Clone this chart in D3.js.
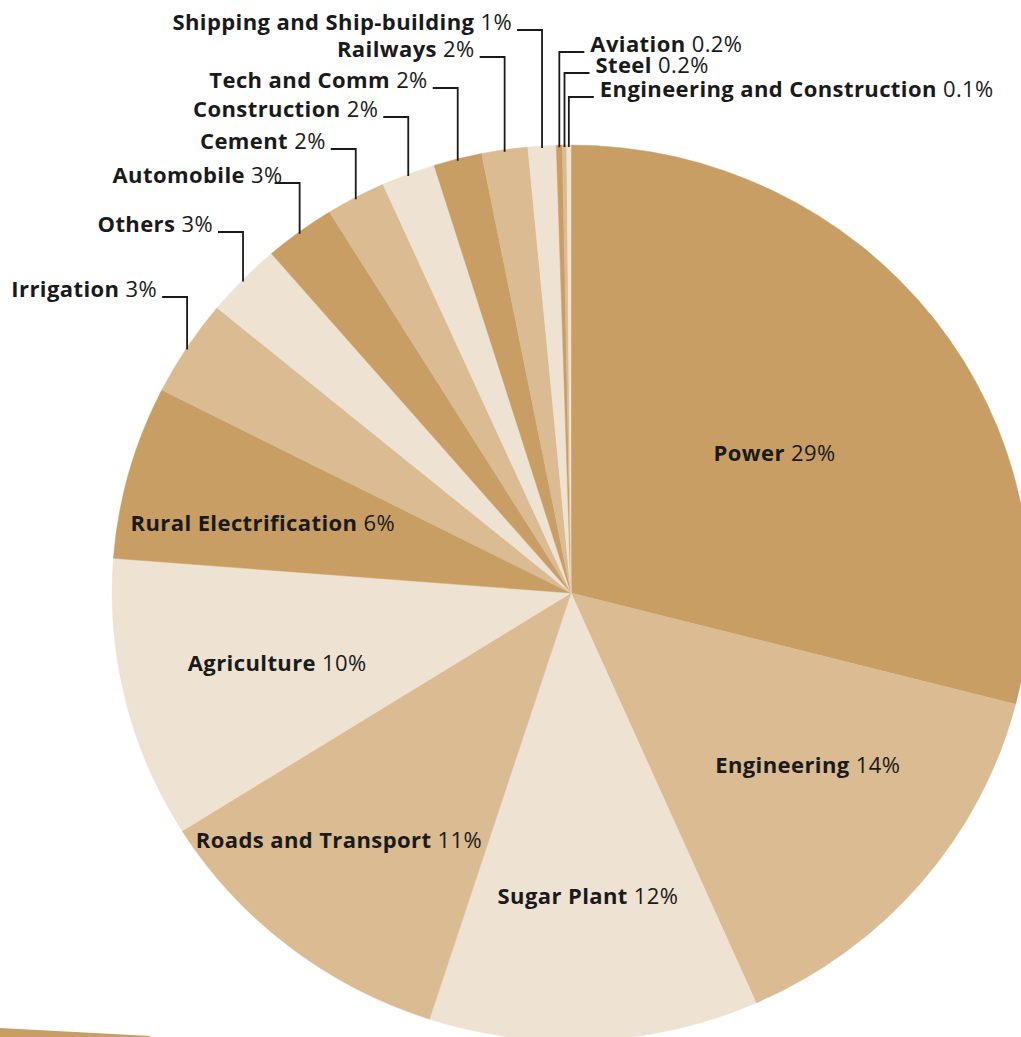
<!DOCTYPE html>
<html>
<head>
<meta charset="utf-8">
<script src="https://cdn.jsdelivr.net/npm/d3@7"></script>
<style>
    body { margin: 0; background: #fff; }
    svg { display: block; }
    .lbl { font-family: "Open Sans", "Noto Sans", sans-serif; font-size: 22px; fill: #1a1a1a; letter-spacing: 0.4px; }
    .lbl .name { font-weight: 700; }
    .callout { fill: none; stroke: #1a1a1a; stroke-width: 1.8; }
</style>
</head>
<body>
<div class="panel"></div>
<script>

// Data ////////////////////////////////////

const categories = [
    "Power", "Engineering", "Sugar Plant", "Roads and Transport", "Agriculture",
    "Rural Electrification", "Irrigation", "Others", "Automobile", "Cement",
    "Construction", "Tech and Comm", "Railways", "Shipping and Ship-building",
    "Aviation", "Steel", "Engineering and Construction"
];

// printed percentages
const labelPct = [29, 14, 12, 11, 10, 6, 3, 3, 3, 2, 2, 2, 2, 1, 0.2, 0.2, 0.1];

const shares = [29.0, 14.4, 11.6, 11.1, 10.15, 6.25, 3.5, 2.7, 2.5, 2.1, 1.9, 1.7, 1.62, 0.99, 0.21, 0.15, 0.15];

// Style / layout ///////////////////////////

const dark = "#c89e64", mid = "#dbbb92", light = "#eee2d2";
const sliceColors = [dark, mid, light, mid, light, dark, mid, light, dark, mid, light, dark, mid, light, dark, mid, light];

const width = 1021, height = 1037;
const cx = 571, cy = 593, rx = 459, ry = 448;

// inner labels: [angle in degrees clockwise from top, distance from centre]
const innerPos = {
    "Power": [55.5, 247],
    "Engineering": [126.1, 293],
    "Sugar Plant": [176.8, 304],
    "Roads and Transport": [223.2, 339],
    "Agriculture": [256.6, 302],
    "Rural Electrification": [282.8, 316]
};

// outer labels: y of the leader line, and which side the text sits
const calloutY = {
    "Irrigation": 297, "Others": 232, "Automobile": 183, "Cement": 149,
    "Construction": 117, "Tech and Comm": 88, "Railways": 57,
    "Shipping and Ship-building": 30,
    "Aviation": 52, "Steel": 73, "Engineering and Construction": 97
};
const rightSide = ["Aviation", "Steel", "Engineering and Construction"];
const textShift = { "Automobile": 13 };

const data = categories.map((c, i) => ({ name: c, pct: labelPct[i], share: shares[i], color: sliceColors[i] }));

// Chart ////////////////////////////////////

const svg = d3.select(".panel").append("svg")
    .attr("width", width)
    .attr("height", height)
    .attr("viewBox", [0, 0, width, height]);

// sliver of the next figure peeking in at the bottom left
svg.append("path")
    .attr("fill", dark)
    .attr("d", "M0,1028 L150,1036 L150,1037 L0,1037 Z");

const pie = d3.pie()
    .value(d => d.share)
    .sort(null);

const arcs = pie(data);

const arc = d3.arc()
    .innerRadius(0)
    .outerRadius(rx);

svg.append("g")
    .attr("transform", `translate(${cx},${cy}) scale(1,${ry / rx})`)
    .selectAll("path")
    .data(arcs)
    .join("path")
    .attr("fill", d => d.data.color)
    .attr("stroke", d => d.data.color)
    .attr("stroke-width", 0.5)
    .attr("d", arc);

function fmt(v) { return v + "%"; }

function addLabel(g, d, x, y, anchor, baseline) {
    const t = g.append("text")
        .attr("class", "lbl")
        .attr("x", x)
        .attr("y", y)
        .attr("text-anchor", anchor);
    if (baseline) t.attr("dy", "0.35em");
    t.append("tspan").attr("class", "name").text(d.data.name);
    t.append("tspan").text(" " + fmt(d.data.pct));
}

const labels = svg.append("g");

arcs.forEach(d => {
    const name = d.data.name;
    if (innerPos[name]) {
        const [deg, dist] = innerPos[name];
        const a = deg * Math.PI / 180;
        addLabel(labels, d, cx + dist * Math.sin(a), cy - dist * Math.cos(a), "middle", true);
        return;
    }
    // leader from middle of the slice's rim up to the label
    const a = (d.startAngle + d.endAngle) / 2;
    const x0 = cx + rx * Math.sin(a);
    const y0 = cy - ry * Math.cos(a);
    const ly = calloutY[name];
    const right = rightSide.includes(name);
    const x1 = right ? x0 + 25 : x0 - 25;

    labels.append("path")
        .attr("class", "callout")
        .attr("d", `M ${x0} ${y0 + 2} L ${x0} ${ly} L ${x1} ${ly}`);

    const shift = textShift[name] || 0;
    if (right) addLabel(labels, d, x1 + 6, ly, "start", false);
    else addLabel(labels, d, x1 - 5 + shift, ly, "end", false);
});

</script>
</body>
</html>
